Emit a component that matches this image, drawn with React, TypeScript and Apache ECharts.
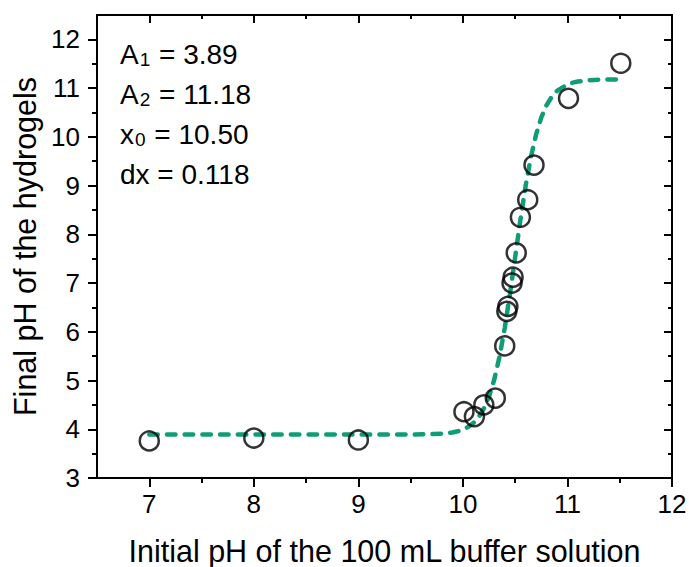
import React, { useEffect, useRef } from "react";
import * as echarts from "echarts";

// Axis ticks
const xMajorTicks = [7, 8, 9, 10, 11, 12];
const xMinorTicks = [7.5, 8.5, 9.5, 10.5, 11.5];
const yMajorTicks = [3, 4, 5, 6, 7, 8, 9, 10, 11, 12];
const yMinorTicks = [3.5, 4.5, 5.5, 6.5, 7.5, 8.5, 9.5, 10.5, 11.5];

// Measured data (initial pH, final pH)
const pointX = [7, 8, 9, 10.01, 10.11, 10.2, 10.31, 10.4, 10.43, 10.42, 10.48, 10.47, 10.51, 10.55, 10.62, 10.68, 11.01, 11.51];
const pointY = [3.76, 3.82, 3.78, 4.36, 4.26, 4.5, 4.64, 5.71, 6.52, 6.42, 7.12, 7.0, 7.62, 8.35, 8.71, 9.42, 10.79, 11.51];

// Fitted (Boltzmann) curve
const fitX = [7, 8, 9, 9.5, 9.8, 9.9, 9.95, 10.0, 10.05, 10.1, 10.15, 10.2, 10.25, 10.3, 10.35, 10.4, 10.45, 10.5, 10.55, 10.6, 10.65, 10.7, 10.75, 10.8, 10.85, 10.9, 11.0, 11.05, 11.1, 11.2, 11.3, 11.5];
const fitY = [3.89, 3.89, 3.89, 3.891, 3.909, 3.935, 3.958, 3.994, 4.048, 4.128, 4.247, 4.422, 4.672, 5.021, 5.487, 6.077, 6.774, 7.535, 8.296, 8.993, 9.583, 10.049, 10.398, 10.648, 10.823, 10.942, 11.076, 11.112, 11.135, 11.161, 11.172, 11.179];

// Fit parameters text
const paramMain = ["A", "A", "x", "dx"];
const paramSub = ["1", "2", "0", ""];
const paramValue = ["3.89", "11.18", "10.50", "0.118"];

const FONT = "'Liberation Sans', Arial, Helvetica, sans-serif";
const GREEN = "#0f9d77";

export default function App() {
  const ref = useRef<HTMLDivElement>(null);
  useEffect(() => {
    const chart = echarts.init(ref.current!, null, { renderer: "svg" });
    const xCommon = { type: "value", min: 6.5, max: 12, gridIndex: 0, splitLine: { show: false } };
    const yCommon = { type: "value", min: 3, max: 12.5, gridIndex: 0, splitLine: { show: false } };
    const lineStyle = { color: "#000", width: 2 };

    const graphics = paramMain.map((m, i) => ({
      type: "text",
      left: 120,
      top: 40 + i * 40,
      style: {
        text: paramSub[i]
          ? `{n|${m}}{s|${paramSub[i]}}{n| = ${paramValue[i]}}`
          : `{n|${m} = ${paramValue[i]}}`,
        rich: {
          n: { fontSize: 28, fontFamily: FONT, fill: "#000", lineHeight: 30 },
          s: { fontSize: 19, fontFamily: FONT, fill: "#000", lineHeight: 8, verticalAlign: "bottom", padding: [0, 1, 0, 1] },
        },
      },
    }));

    chart.setOption({
      animation: false,
      backgroundColor: "#fff",
      grid: { left: 97, right: 17, top: 15, bottom: 89, containLabel: false, outerBoundsMode: "none" },
      xAxis: [
        {
          ...xCommon,
          position: "bottom",
          name: "Initial pH of the 100 mL buffer solution",
          nameLocation: "middle",
          nameGap: 57,
          nameTextStyle: { fontSize: 30.5, fontFamily: FONT, color: "#000" },
          axisLine: { show: true, onZero: false, lineStyle },
          axisTick: { show: true, inside: false, length: 9, lineStyle, customValues: xMajorTicks },
          axisLabel: { show: true, margin: 13, fontSize: 26, fontFamily: FONT, color: "#000", customValues: xMajorTicks },
        },
        {
          ...xCommon,
          position: "bottom",
          axisLine: { show: false, onZero: false },
          axisTick: { show: true, inside: false, length: 5, lineStyle, customValues: xMinorTicks },
          axisLabel: { show: false },
        },
        {
          ...xCommon,
          position: "top",
          axisLine: { show: true, onZero: false, lineStyle },
          axisTick: { show: true, inside: true, length: 8, lineStyle, customValues: xMajorTicks },
          axisLabel: { show: false },
        },
        {
          ...xCommon,
          position: "top",
          axisLine: { show: false, onZero: false },
          axisTick: { show: true, inside: true, length: 4, lineStyle, customValues: xMinorTicks },
          axisLabel: { show: false },
        },
      ],
      yAxis: [
        {
          ...yCommon,
          position: "left",
          name: "Final pH of the hydrogels",
          nameLocation: "middle",
          nameGap: 56,
          nameRotate: 90,
          nameTextStyle: { fontSize: 30.5, fontFamily: FONT, color: "#000" },
          axisLine: { show: true, onZero: false, lineStyle },
          axisTick: { show: true, inside: false, length: 9, lineStyle, customValues: yMajorTicks },
          axisLabel: { show: true, margin: 17, fontSize: 26, fontFamily: FONT, color: "#000", customValues: yMajorTicks },
        },
        {
          ...yCommon,
          position: "left",
          axisLine: { show: false, onZero: false },
          axisTick: { show: true, inside: false, length: 5, lineStyle, customValues: yMinorTicks },
          axisLabel: { show: false },
        },
        {
          ...yCommon,
          position: "right",
          axisLine: { show: true, onZero: false, lineStyle },
          axisTick: { show: true, inside: true, length: 8, lineStyle, customValues: yMajorTicks },
          axisLabel: { show: false },
        },
        {
          ...yCommon,
          position: "right",
          axisLine: { show: false, onZero: false },
          axisTick: { show: true, inside: true, length: 4, lineStyle, customValues: yMinorTicks },
          axisLabel: { show: false },
        },
      ],
      series: [
        {
          type: "line",
          xAxisIndex: 0,
          yAxisIndex: 0,
          data: fitX.map((x, i) => [x, fitY[i]]),
          showSymbol: false,
          smooth: false,
          lineStyle: { color: GREEN, width: 4.5, type: [8.5, 9.2], cap: "round" },
          z: 2,
        },
        {
          type: "scatter",
          xAxisIndex: 0,
          yAxisIndex: 0,
          data: pointX.map((x, i) => [x, pointY[i]]),
          symbol: "circle",
          symbolSize: 19,
          itemStyle: { color: "rgba(0,0,0,0)", borderColor: "#000", borderWidth: 2.5 },
          z: 3,
        },
      ],
      graphic: graphics,
    });
    return () => chart.dispose();
  }, []);
  return <div ref={ref} style={{ position: "absolute", left: 0, top: 0, width: 689, height: 567 }} />;
}
